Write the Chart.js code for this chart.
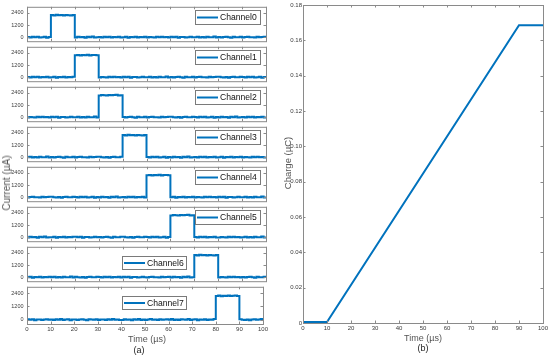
<!DOCTYPE html>
<html><head><meta charset="utf-8">
<script src="https://cdn.jsdelivr.net/npm/chart.js@4.4.1/dist/chart.umd.min.js"></script>
<style>
html,body{margin:0;padding:0;background:#fff;}
#wrap{position:relative;width:550px;height:358px;overflow:hidden;font-family:"Liberation Sans",Arial,Helvetica,sans-serif;}
canvas{position:absolute;}
.lbl{position:absolute;white-space:nowrap;transform:translate(-50%,-50%);color:#444;line-height:1;}
</style></head><body>
<div id="wrap">
<div class="lbl" style="left:147px;top:339px;font-size:9px;color:#555">Time (µs)</div>
<div class="lbl" style="left:139px;top:350px;font-size:9px;color:#222">(a)</div>
<div class="lbl" style="left:423px;top:338px;font-size:9px;color:#555">Time (µs)</div>
<div class="lbl" style="left:423px;top:348px;font-size:9px;color:#222">(b)</div>
<div class="lbl" style="left:7px;top:183px;font-size:10px;color:#555;transform:translate(-50%,-50%) rotate(-90deg)">Current (µA)</div>
<div class="lbl" style="left:288px;top:163px;font-size:9.5px;color:#555;transform:translate(-50%,-50%) rotate(-90deg)">Charge (µC)</div>
</div>
<script>
// ---------------- data ----------------
const timeUs = [0,1,2,3,4,5,6,7,8,9,10,11,12,13,14,15,16,17,18,19,20,21,22,23,24,25,26,27,28,29,30,31,32,33,34,35,36,37,38,39,40,41,42,43,44,45,46,47,48,49,50,51,52,53,54,55,56,57,58,59,60,61,62,63,64,65,66,67,68,69,70,71,72,73,74,75,76,77,78,79,80,81,82,83,84,85,86,87,88,89,90,91,92,93,94,95,96,97,98,99,100];

const ch0 = [10,-40,30,-20,50,-30,0,40,-50,20,
2180,2150,2210,2160,2190,2140,2200,2170,2150,2190,
-30,40,-20,10,-50,30,-10,60,-40,0,
20,-30,50,-10,30,-40,10,-20,40,-30,
0,30,-50,20,-10,40,-30,10,-20,50,
-40,20,0,-30,30,-10,50,-20,10,-40,
30,-20,40,-50,10,20,-30,0,40,-10,
-20,50,-30,10,-40,30,0,-20,60,-30,
10,-40,20,30,-10,-50,40,0,-20,30,
-30,10,50,-20,0,-40,30,-10,20,40,
60];
const ch1 = [20,-30,50,-10,30,-40,10,-20,40,-30,
0,30,-50,20,-10,40,-30,10,-20,50,
2160,2200,2140,2190,2170,2210,2150,2180,2200,2160,
-40,20,0,-30,30,-10,50,-20,10,-40,
30,-20,40,-50,10,20,-30,0,40,-10,
-20,50,-30,10,-40,30,0,-20,60,-30,
10,-40,20,30,-10,-50,40,0,-20,30,
-30,10,50,-20,0,-40,30,-10,20,40,
40,-10,-30,20,-50,10,30,-20,0,50,
10,-40,30,-20,50,-30,0,40,-50,20,
-20];
const ch2 = [-40,20,0,-30,30,-10,50,-20,10,-40,
30,-20,40,-50,10,20,-30,0,40,-10,
-20,50,-30,10,-40,30,0,-20,60,-30,
2150,2190,2170,2140,2200,2160,2180,2210,2150,2170,
10,-40,20,30,-10,-50,40,0,-20,30,
-30,10,50,-20,0,-40,30,-10,20,40,
40,-10,-30,20,-50,10,30,-20,0,50,
10,-40,30,-20,50,-30,0,40,-50,20,
-30,40,-20,10,-50,30,-10,60,-40,0,
20,-30,50,-10,30,-40,10,-20,40,-30,
30];
const ch3 = [-20,50,-30,10,-40,30,0,-20,60,-30,
10,-40,20,30,-10,-50,40,0,-20,30,
-30,10,50,-20,0,-40,30,-10,20,40,
40,-10,-30,20,-50,10,30,-20,0,50,
2180,2150,2210,2160,2190,2140,2200,2170,2150,2190,
10,-40,30,-20,50,-30,0,40,-50,20,
-30,40,-20,10,-50,30,-10,60,-40,0,
20,-30,50,-10,30,-40,10,-20,40,-30,
0,30,-50,20,-10,40,-30,10,-20,50,
-40,20,0,-30,30,-10,50,-20,10,-40,
0];
const ch4 = [-30,10,50,-20,0,-40,30,-10,20,40,
40,-10,-30,20,-50,10,30,-20,0,50,
10,-40,30,-20,50,-30,0,40,-50,20,
-30,40,-20,10,-50,30,-10,60,-40,0,
20,-30,50,-10,30,-40,10,-20,40,-30,
2160,2200,2140,2190,2170,2210,2150,2180,2200,2160,
0,30,-50,20,-10,40,-30,10,-20,50,
-40,20,0,-30,30,-10,50,-20,10,-40,
30,-20,40,-50,10,20,-30,0,40,-10,
-20,50,-30,10,-40,30,0,-20,60,-30,
-40];
const ch5 = [-30,40,-20,10,-50,30,-10,60,-40,0,
0,30,-50,20,-10,40,-30,10,-20,50,
30,-20,40,-50,10,20,-30,0,40,-10,
10,-40,20,30,-10,-50,40,0,-20,30,
40,-10,-30,20,-50,10,30,-20,0,50,
10,-40,30,-20,50,-30,0,40,-50,20,
2150,2190,2170,2140,2200,2160,2180,2210,2150,2170,
20,-30,50,-10,30,-40,10,-20,40,-30,
-40,20,0,-30,30,-10,50,-20,10,-40,
-20,50,-30,10,-40,30,0,-20,60,-30,
20];
const ch6 = [0,30,-50,20,-10,40,-30,10,-20,50,
-20,50,-30,10,-40,30,0,-20,60,-30,
40,-10,-30,20,-50,10,30,-20,0,50,
20,-30,50,-10,30,-40,10,-20,40,-30,
30,-20,40,-50,10,20,-30,0,40,-10,
-30,10,50,-20,0,-40,30,-10,20,40,
-30,40,-20,10,-50,30,-10,60,-40,0,
2180,2150,2210,2160,2190,2140,2200,2170,2150,2190,
-40,20,0,-30,30,-10,50,-20,10,-40,
10,-40,20,30,-10,-50,40,0,-20,30,
-10];
const ch7 = [30,-20,40,-50,10,20,-30,0,40,-10,
10,-40,30,-20,50,-30,0,40,-50,20,
10,-40,20,30,-10,-50,40,0,-20,30,
-40,20,0,-30,30,-10,50,-20,10,-40,
-30,40,-20,10,-50,30,-10,60,-40,0,
-30,10,50,-20,0,-40,30,-10,20,40,
-20,50,-30,10,-40,30,0,-20,60,-30,
0,30,-50,20,-10,40,-30,10,-20,50,
2160,2200,2140,2190,2170,2210,2150,2180,2200,2160,
40,-10,-30,20,-50,10,30,-20,0,50,
40];
const channelLabels = ['Channel0','Channel1','Channel2','Channel3','Channel4','Channel5','Channel6','Channel7'];

const chargeTimeUs = [0, 10, 90, 100];
const chargeUC = [0.0006, 0.0006, 0.1685, 0.1685];

const timeTicks = [0,10,20,30,40,50,60,70,80,90,100];
const currentTicks = [0,1200,2400];
const chargeTicks = [0,0.02,0.04,0.06,0.08,0.1,0.12,0.14,0.16,0.18];

// ---------------- drawing ----------------
const BLUE = '#0072BD';
const AXIS = '#8a8a8a';
const TXT = '#3a3a3a';
const FONT = '"Liberation Sans", Arial, Helvetica, sans-serif';
Chart.defaults.font.family = FONT;
Chart.defaults.color = TXT;

const wrap = document.getElementById('wrap');
function makeCanvas(left, top, w, h) {
  const c = document.createElement('canvas');
  c.width = w; c.height = h;
  c.style.left = left + 'px'; c.style.top = top + 'px';
  c.style.width = w + 'px'; c.style.height = h + 'px';
  wrap.insertBefore(c, wrap.firstChild);
  return c.getContext('2d');
}

const framePlugin = {
  id: 'frame',
  afterDatasetsDraw(chart, args, opts) {
    const { ctx, chartArea: a, scales } = chart;
    ctx.save();
    ctx.strokeStyle = AXIS;
    ctx.lineWidth = 1;
    const tl = opts.tick || 2.5;
    ctx.beginPath();
    (opts.xTicks || []).forEach(v => {
      const px = Math.round(scales.x.getPixelForValue(v)) + 0.5;
      ctx.moveTo(px, a.top); ctx.lineTo(px, a.top + tl);
      ctx.moveTo(px, a.bottom); ctx.lineTo(px, a.bottom - tl);
    });
    (opts.yTicks || []).forEach(v => {
      const py = Math.round(scales.y.getPixelForValue(v)) + 0.5;
      ctx.moveTo(a.left, py); ctx.lineTo(a.left + tl, py);
      ctx.moveTo(a.right, py); ctx.lineTo(a.right - tl, py);
    });
    ctx.stroke();
    ctx.strokeRect(a.left + 0.5, a.top + 0.5, a.right - a.left, a.bottom - a.top);
    const lg = opts.legend;
    if (lg) {
      const ds = chart.data.datasets[0];
      const x = Math.round(a.left + lg.dx), y = Math.round(a.top + lg.dy);
      ctx.fillStyle = '#fff';
      ctx.fillRect(x, y, lg.w, lg.h);
      ctx.strokeStyle = '#7a7a7a';
      ctx.strokeRect(x + 0.5, y + 0.5, lg.w, lg.h);
      ctx.strokeStyle = ds.borderColor;
      ctx.lineWidth = 2;
      ctx.beginPath();
      ctx.moveTo(x + 2, y + lg.h / 2 + 0.5);
      ctx.lineTo(x + 23, y + lg.h / 2 + 0.5);
      ctx.stroke();
      ctx.fillStyle = '#111';
      ctx.font = '8.6px ' + FONT;
      ctx.textBaseline = 'middle';
      ctx.textAlign = 'left';
      ctx.fillText(ds.label, x + 25, y + lg.h / 2 + 1);
    }
    ctx.restore();
  }
};

const channels = [ch0, ch1, ch2, ch3, ch4, ch5, ch6, ch7];
channels.forEach((vals, k) => {
  const last = k === channels.length - 1;
  const top = 4 + 40 * k;
  const H = last ? 62 : 48;
  const ctx = makeCanvas(0, top - 4, 270, H);
  new Chart(ctx, {
    type: 'line',
    data: {
      datasets: [{
        label: channelLabels[k],
        data: timeUs.map((t, i) => ({ x: t, y: vals[i] })),
        borderColor: BLUE, borderWidth: 2, pointRadius: 0,
        stepped: true, fill: false
      }]
    },
    options: {
      responsive: false, animation: false, devicePixelRatio: 1,
      layout: { padding: { top: 4, right: 4, bottom: 4, left: 0 } },
      plugins: {
        legend: { display: false }, tooltip: { enabled: false },
        frame: {
          legend: k < 6 ? { dx: 168, dy: 3, w: 65, h: 14 } : { dx: 95, dy: 9, w: 64, h: 13 },
          tick: 2.5, xTicks: timeTicks, yTicks: currentTicks
        }
      },
      scales: {
        x: {
          type: 'linear', min: 0, max: 100,
          afterBuildTicks: s => { s.ticks = timeTicks.map(v => ({ value: v })); },
          grid: { display: false, drawTicks: false }, border: { display: false },
          ticks: { display: last, padding: 2, font: { size: 6 }, color: TXT, maxRotation: 0, autoSkip: false, callback: v => String(v) },
          afterFit: s => { s.height = last ? 14 : 0; }
        },
        y: {
          type: 'linear', min: -400, max: 3000,
          afterBuildTicks: s => { s.ticks = currentTicks.map(v => ({ value: v })); },
          grid: { display: false, drawTicks: false }, border: { display: false },
          ticks: { padding: 3.5, font: { size: 5.5 }, color: TXT, autoSkip: false, callback: v => String(v) },
          afterFit: s => { s.width = 27; }
        }
      }
    },
    plugins: [framePlugin]
  });
});

// right panel
{
  const ctx = makeCanvas(280, 0, 270, 358);
  new Chart(ctx, {
    type: 'line',
    data: {
      datasets: [{
        label: 'Charge',
        data: chargeTimeUs.map((t, i) => ({ x: t, y: chargeUC[i] })),
        borderColor: BLUE, borderWidth: 2, pointRadius: 0, fill: false, tension: 0
      }]
    },
    options: {
      responsive: false, animation: false, devicePixelRatio: 1,
      layout: { padding: { top: 5, right: 7, bottom: 21, left: 0 } },
      plugins: {
        legend: { display: false }, tooltip: { enabled: false },
        frame: { tick: 2.5, xTicks: timeTicks, yTicks: chargeTicks }
      },
      scales: {
        x: {
          type: 'linear', min: 0, max: 100,
          afterBuildTicks: s => { s.ticks = timeTicks.map(v => ({ value: v })); },
          grid: { display: false, drawTicks: false }, border: { display: false },
          ticks: { padding: 2, font: { size: 6 }, color: TXT, maxRotation: 0, autoSkip: false, callback: v => String(v) },
          afterFit: s => { s.height = 14; }
        },
        y: {
          type: 'linear', min: 0, max: 0.18,
          afterBuildTicks: s => { s.ticks = chargeTicks.map(v => ({ value: v })); },
          grid: { display: false, drawTicks: false }, border: { display: false },
          ticks: { padding: 1, font: { size: 6 }, color: TXT, autoSkip: false, callback: v => v === 0 ? '0' : (+v).toFixed(2) },
          afterFit: s => { s.width = 23; }
        }
      }
    },
    plugins: [framePlugin]
  });
}
</script>
</body></html>
